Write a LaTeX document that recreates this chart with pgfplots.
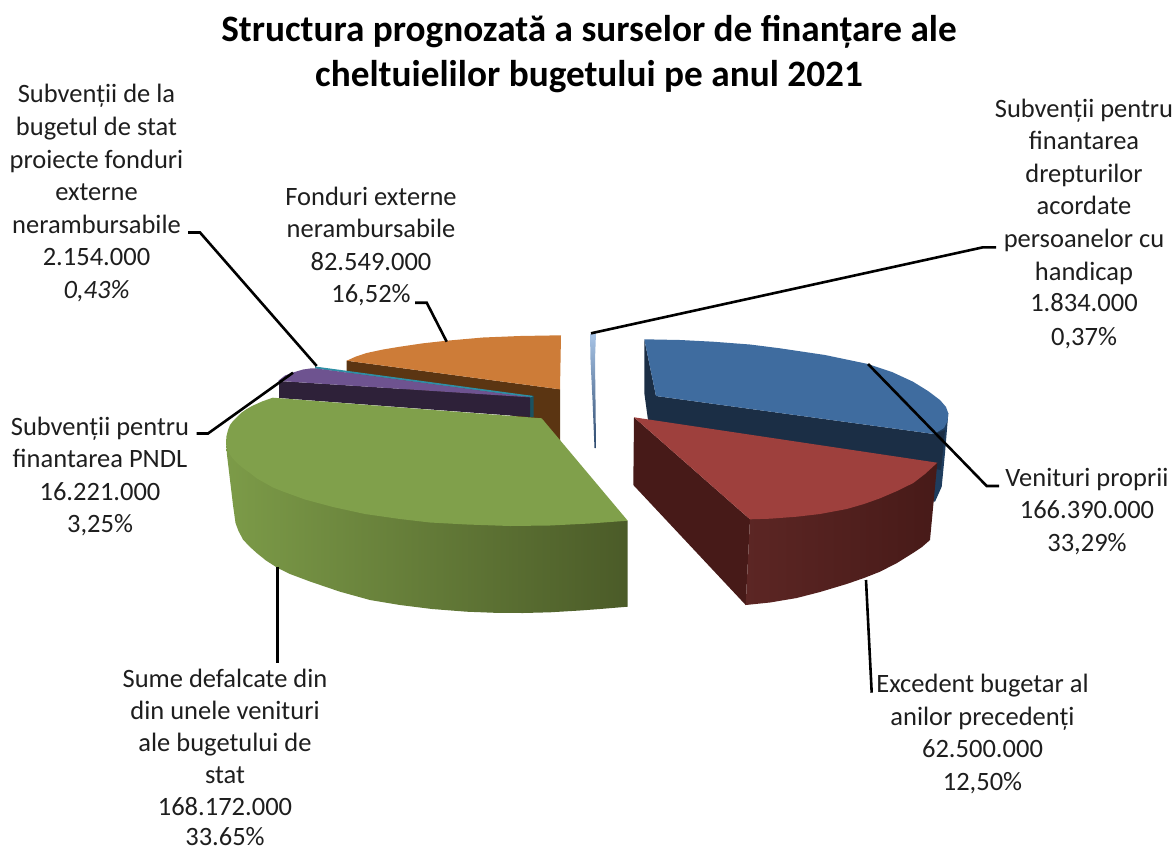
\documentclass[border=0pt]{standalone}
\usepackage{pgfplots}
\pgfplotsset{compat=1.18}
\usepackage{fontspec}
\setmainfont{Carlito}
\definecolor{tcol}{HTML}{1E1E1E}
\definecolor{bluetop}{HTML}{3F6C9F}
\definecolor{bluedk}{HTML}{1B2E45}
\definecolor{bluesd}{HTML}{1F3D5E}
\definecolor{slivt}{HTML}{A8C4E6}
\definecolor{slivm}{HTML}{6E8FBC}
\definecolor{slivb}{HTML}{2E4A6E}
\definecolor{redtop}{HTML}{9E403D}
\definecolor{reddk}{HTML}{471A18}
\definecolor{redsd}{HTML}{5C2624}
\definecolor{grntop}{HTML}{80A04B}
\definecolor{grnlt}{HTML}{7C9B48}
\definecolor{grnmd}{HTML}{6E8840}
\definecolor{grndk}{HTML}{4B5B28}
\definecolor{orgtop}{HTML}{CD7C38}
\definecolor{orgdk}{HTML}{5B3512}
\definecolor{purtop}{HTML}{6E5390}
\definecolor{purdk}{HTML}{2E2139}
\definecolor{teal1}{HTML}{2E8FA5}
\definecolor{teal2}{HTML}{1B5361}
\newcommand\lab[3]{\node[anchor=base,text=tcol,inner sep=0pt] at (axis cs:#1,#2) {\fontsize{26.6}{30}\selectfont #3};}
\begin{document}
\begin{tikzpicture}
\begin{axis}[hide axis,clip=false,scale only axis,width=1174bp,height=852bp,
  xmin=0,xmax=1174,ymin=0,ymax=852,y dir=reverse]
\path (axis cs:0,0) (axis cs:1174,852);
% sliver: Subventii persoane cu handicap, 0,37%
\addplot[draw=none,top color=slivt,middle color=slivm,bottom color=slivb] coordinates {(590,334)(596,333)(595,360)(595.5,400)(596,448)(594.5,448)(592.5,400)(590.5,360)} --cycle;
% orange: Fonduri externe, 16,52%
\addplot[draw=none,fill=orgdk] coordinates {(346.7,360.7)(560,389.3)(560,441)(530,420)(346.7,375)} --cycle;
\addplot[draw=none,fill=orgtop] coordinates {(346.7,360.7)(356,356.5)(366.7,353)(383,349.5)(400,346.7)(423,343.3)(446.7,340.7)(483,337.5)(520,336)(561,335.3)(560,389.3)} --cycle;
% teal: Subventii proiecte fonduri externe, 0,43%
\addplot[draw=none,fill=teal2] coordinates {(527,395)(533.5,396)(533.5,417)(527,417)} --cycle;
\addplot[draw=none,fill=teal1] coordinates {(315,366.5)(533.5,396)(530,397.5)(315,368.5)} --cycle;
% purple: PNDL, 3,25%
\addplot[draw=none,fill=purdk] coordinates {(279,381)(530,397)(530,417)(279,398)} --cycle;
\addplot[draw=none,fill=purtop] coordinates {(278.3,380.7)(285,375.5)(293,372.5)(303,369.5)(310,368.5)(315,368.3)(530,397.3)(280,381)} --cycle;
% green: Sume defalcate, 33,65%
\addplot[draw=none,left color=grnlt,middle color=grnmd,right color=grndk] coordinates {(226,442)(627.7,520.7)(627.7,606.7)(600,609)(580,610.5)(550,612.3)(523,613)(495,612.8)(466.7,611.7)(432,609)(400,605)(370,600)(340,591.7)(310,581.5)(290,574)(277.7,568)(266,560.5)(256.7,553)(249,546)(243,539.5)(238.5,531)(235.5,523)(233,505)(230,480)(227,455)} --cycle;
\addplot[draw=none,fill=grntop] coordinates {(272.7,397.7)(541.7,418.3)(627.7,520.7)(590,523.5)(550,525.5)(510,526)(467,524.5)(430,522.5)(400,519)(365,514)(333,507)(305,499.5)(283,491.5)(273,487.5)(265,483)(257,478.5)(250,473)(243,468)(237,463)(232,457.5)(229,453)(227,447.5)(226,442)(226.5,436)(228,430)(230,425)(233,421)(237,417)(241,413)(246,409.5)(252,406)(262,401.5)} --cycle;
% blue: Venituri proprii, 33,29%
\addplot[draw=none,fill=bluesd] coordinates {(948.3,413.3)(945,453)(941.7,486.7)(935,501.7)(900,500)(700,440)(934,434)} --cycle;
\addplot[draw=none,fill=bluedk] coordinates {(644.3,339.3)(656,396)(934,434)(945,430)(941,470)(648,420)(644.3,393)} --cycle;
\addplot[draw=none,fill=bluetop] coordinates {(644.3,339.3)(680,340)(713,341.7)(750,344.5)(780,348.3)(825,355)(868,364)(892,372)(913,381.7)(928,391)(940,400)(946,407)(948.3,413.3)(947.5,421)(944,428)(934,434)(656,396)} --cycle;
% red: Excedent bugetar, 12,50%
\addplot[draw=none,fill=reddk] coordinates {(634,417.3)(750,519.3)(745.7,605)(633.3,485)} --cycle;
\addplot[draw=none,left color=redsd,right color=reddk] coordinates {(750,519.3)(937.3,462.7)(930,540)(922,547)(913,553)(897,563)(880,571.7)(864,578)(846.7,584)(820,592)(796.7,598)(770,602.5)(745.7,605)} --cycle;
\addplot[draw=none,fill=redtop] coordinates {(634,417.3)(937.3,462.7)(925,474)(913.3,483)(897,491)(880,498.3)(864,504)(846.7,509)(820,514)(796.7,516.7)(770,518.7)(750,519.3)} --cycle;
% leaders
\addplot[black,line width=2.6bp] coordinates {(188,232.5)(200,232.5)(316.7,366)};
\addplot[black,line width=2.6bp] coordinates {(415,302.7)(426.7,302.7)(446.7,341.7)};
\addplot[black,line width=2.6bp] coordinates {(196.7,433.5)(208,433.5)(293,372.7)};
\addplot[black,line width=2.6bp] coordinates {(996,247.3)(983,247.3)(591,333.3)};
\addplot[black,line width=2.6bp] coordinates {(999,486)(986.7,486)(868,364)};
\addplot[black,line width=2.6bp] coordinates {(866,580)(871.7,692.7)};
\addplot[black,line width=2.6bp] coordinates {(277.7,566.7)(277.7,662.7)};
% title
\node[anchor=base,text=black,inner sep=0pt] at (axis cs:589,42) {\fontsize{37.4}{40}\selectfont\bfseries Structura prognozată a surselor de finanțare ale};
\node[anchor=base,text=black,inner sep=0pt] at (axis cs:589,87) {\fontsize{37.4}{40}\selectfont\bfseries cheltuielilor bugetului pe anul 2021};
% labels
\lab{96.5}{103}{Subvenții de la}
\lab{96.5}{135}{bugetul de stat}
\lab{96.5}{168.3}{proiecte fonduri}
\lab{96.5}{200.7}{externe}
\lab{96.5}{233.3}{nerambursabile}
\lab{96.5}{265.7}{2.154.000}
\lab{96.5}{298.3}{\itshape 0,43\%}
\lab{371}{205}{Fonduri externe}
\lab{371}{237.3}{nerambursabile}
\lab{371}{270}{82.549.000}
\lab{371}{302.7}{16,52\%}
\lab{1084}{117.3}{Subvenții pentru}
\lab{1084}{149.3}{finantarea}
\lab{1084}{182.3}{drepturilor}
\lab{1084}{214.3}{acordate}
\lab{1084}{247.3}{persoanelor cu}
\lab{1084}{280}{handicap}
\lab{1084}{311.7}{1.834.000}
\lab{1084}{345}{0,37\%}
\lab{1087}{486}{Venituri proprii}
\lab{1087}{518.3}{166.390.000}
\lab{1087}{551.7}{33,29\%}
\lab{982.5}{692.7}{Excedent bugetar al}
\lab{982.5}{725}{anilor precedenți}
\lab{982.5}{757.5}{62.500.000}
\lab{982.5}{790}{12,50\%}
\lab{100}{435}{Subvenții pentru}
\lab{100}{467.7}{finantarea PNDL}
\lab{100}{500.7}{16.221.000}
\lab{100}{532.7}{3,25\%}
\lab{225}{687}{Sume defalcate din}
\lab{225}{719}{din unele venituri}
\lab{225}{751}{ale bugetului de}
\lab{225}{783}{stat}
\lab{225}{815}{168.172.000}
\lab{225}{845}{33.65\%}
\end{axis}
\end{tikzpicture}
\end{document}
